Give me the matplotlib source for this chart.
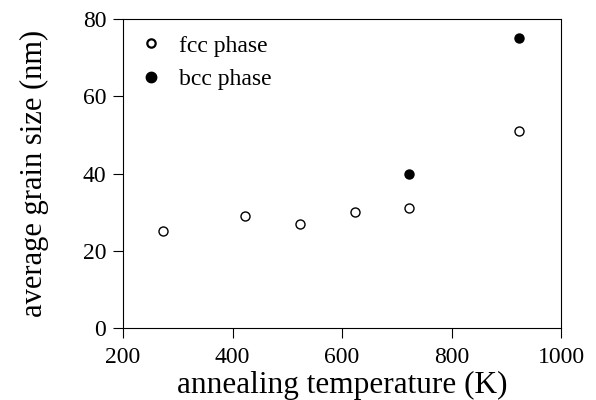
import matplotlib
matplotlib.use("Agg")
import matplotlib.pyplot as plt
from matplotlib.lines import Line2D

matplotlib.rcParams.update({"font.family": "Liberation Serif", "font.size": 17})

# grain size vs annealing temperature
fcc_temp = [273, 423, 523, 623, 723, 923]
fcc_size = [25, 29, 27, 30, 31, 51]
bcc_temp = [723, 923]
bcc_size = [40, 75]

fig = plt.figure(figsize=(5.96, 4.0), dpi=100)
ax = fig.add_axes([0.2064, 0.18, 0.7349, 0.7725])

ax.plot(fcc_temp, fcc_size, "o", mfc="white", mec="black", mew=1.0, ms=6.5)
ax.plot(bcc_temp, bcc_size, "o", mfc="black", mec="black", ms=6.5)

ax.set_xlim(200, 1000)
ax.set_ylim(0, 80)
ax.set_xticks([200, 400, 600, 800, 1000])
ax.set_yticks([0, 20, 40, 60, 80])
ax.tick_params(direction="out", length=7, width=0.8, top=False, right=False, labelsize=17)
ax.tick_params(axis="y", pad=5)
ax.tick_params(axis="x", pad=7)
for s in ax.spines.values():
    s.set_linewidth(0.8)

ax.set_xlabel("annealing temperature (K)", fontsize=22.5, labelpad=2)
ax.set_ylabel("average grain size (nm)", fontsize=22, labelpad=24)

handles = [
    Line2D([], [], ls="none", marker="o", mfc="white", mec="black", mew=1.6, ms=6),
    Line2D([], [], ls="none", marker="o", mfc="black", mec="black", ms=7.5),
]
ax.legend(handles, ["fcc phase", "bcc phase"], loc="upper left", frameon=False,
          fontsize=17, handlelength=0.8, handletextpad=0.8, labelspacing=0.5,
          borderaxespad=0.5, bbox_to_anchor=(-0.007, 1.017))

fig.savefig("out.png", dpi=100)
